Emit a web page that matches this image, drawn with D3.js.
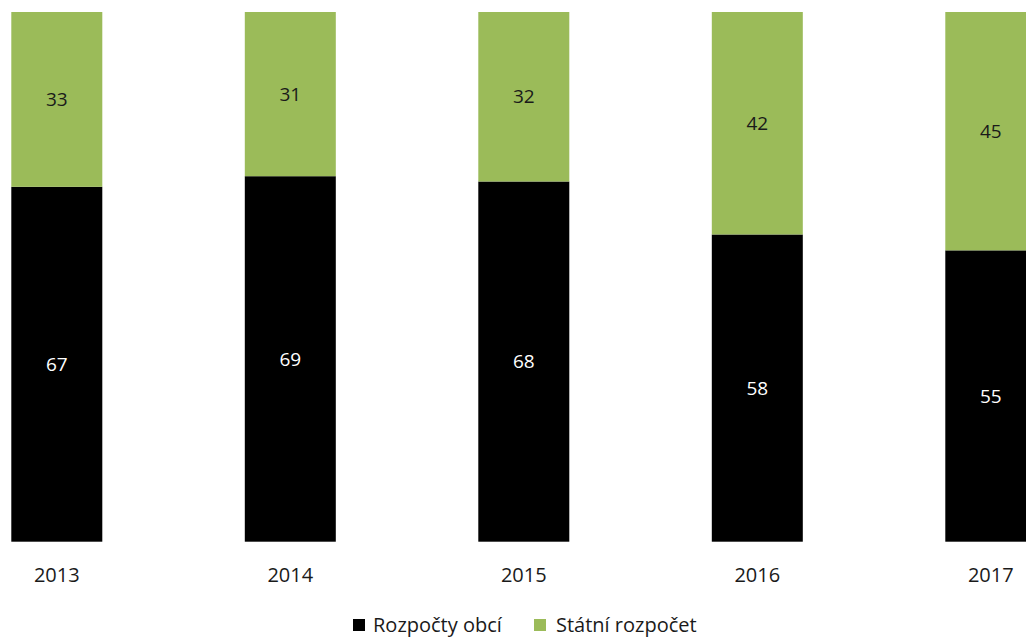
<!DOCTYPE html>
<html>
<head>
<meta charset="utf-8">
<script src="https://cdn.jsdelivr.net/npm/d3@7"></script>
<style>
  html, body { margin: 0; padding: 0; background: #ffffff; overflow: hidden; }
  svg { display: block; font-family: "Open Sans", "Noto Sans", sans-serif; }
</style>
</head>
<body>
<svg id="chart" width="1026" height="639"></svg>
<script>
// Shares of funding by source, in percent
const years = ["2013", "2014", "2015", "2016", "2017"];
const obce = [67, 69, 68, 58, 55];      // Rozpočty obcí
const stat = [33, 31, 32, 42, 45];      // Státní rozpočet
const seriesNames = ["Rozpočty obcí", "Státní rozpočet"];
const seriesColors = ["#000000", "#9bbb59"];
const labelColors = ["#ffffff", "#1a1a1a"];

const svg = d3.select("#chart");

const plotTop = 12, plotBottom = 541.7;
const step = 233.5, firstCenter = 56.8, barW = 91;

const x = d3.scaleBand()
  .domain(years)
  .range([firstCenter - step / 2, firstCenter - step / 2 + step * years.length])
  .paddingInner((step - barW) / step)
  .paddingOuter((step - barW) / step / 2);

const y = d3.scaleLinear().domain([0, 100]).range([plotBottom, plotTop]);

const rows = years.map((yr, i) => ({ year: yr, obce: obce[i], stat: stat[i] }));
const layers = d3.stack().keys(["obce", "stat"])(rows);

const g = svg.append("g");
layers.forEach((layer, li) => {
  const grp = g.append("g");
  grp.selectAll("rect")
    .data(layer)
    .join("rect")
    .attr("x", d => x(d.data.year))
    .attr("width", x.bandwidth())
    .attr("y", d => y(d[1]))
    .attr("height", d => y(d[0]) - y(d[1]))
    .attr("fill", seriesColors[li]);
  grp.selectAll("text")
    .data(layer)
    .join("text")
    .attr("x", d => x(d.data.year) + x.bandwidth() / 2)
    .attr("y", d => (y(d[0]) + y(d[1])) / 2)
    .attr("dy", "0.35em")
    .attr("text-anchor", "middle")
    .attr("font-size", 19)
    .attr("fill", labelColors[li])
    .text(d => d[1] - d[0]);
});

// Category axis without line or ticks
const axis = d3.axisBottom(x).tickSize(0).tickPadding(0);
const ax = svg.append("g")
  .attr("transform", `translate(0, ${plotBottom})`)
  .call(axis);
ax.select(".domain").remove();
ax.selectAll("text")
  .attr("y", 0)
  .attr("dy", 0)
  .attr("transform", "translate(0, 40.5)")
  .attr("font-size", 20)
  .attr("font-family", "\"Open Sans\", \"Noto Sans\", sans-serif")
  .attr("fill", "#1a1a1a");

// Legend
const legend = svg.append("g").attr("transform", "translate(353, 625)");
const legendX = [0, 181];
seriesNames.forEach((name, i) => {
  const item = legend.append("g").attr("transform", `translate(${legendX[i]}, 0)`);
  item.append("rect")
    .attr("x", 0).attr("y", -6)
    .attr("width", 12).attr("height", 12)
    .attr("fill", seriesColors[i]);
  item.append("text")
    .attr("x", 20 + i * 2).attr("y", 0)
    .attr("dy", "0.35em")
    .attr("font-size", 20)
    .attr("fill", "#1a1a1a")
    .text(name);
});
</script>
</body>
</html>
